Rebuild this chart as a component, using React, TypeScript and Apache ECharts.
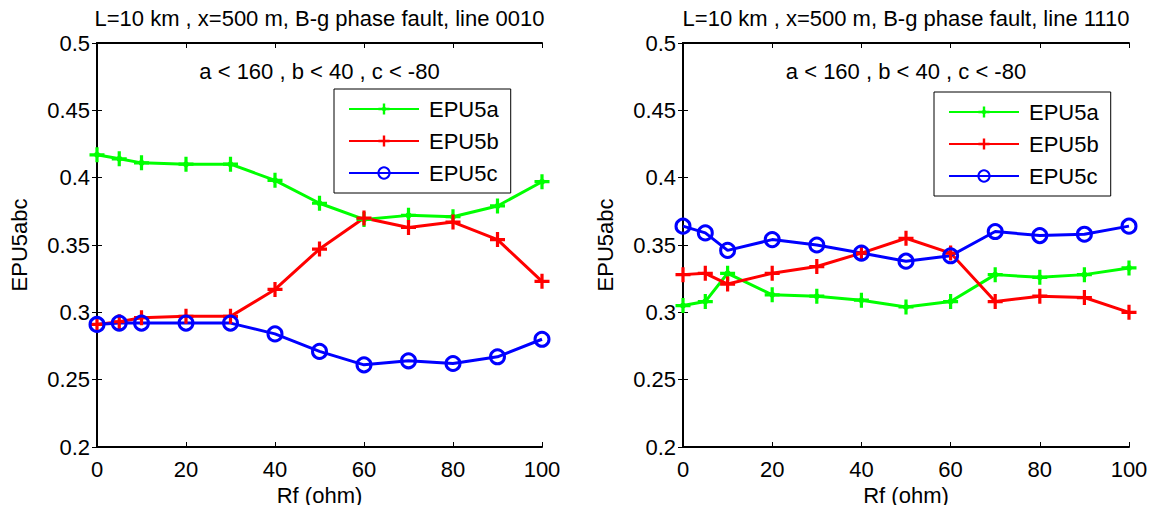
import React, { useEffect, useRef } from "react";
import * as echarts from "echarts";

const rfValues = [0, 5, 10, 20, 30, 40, 50, 60, 70, 80, 90, 100];
const seriesNames = ["EPU5a", "EPU5b", "EPU5c"];

const leftA = [0.417, 0.414, 0.411, 0.41, 0.41, 0.398, 0.381, 0.369, 0.372, 0.371, 0.379, 0.397];
const leftB = [0.291, 0.293, 0.296, 0.297, 0.297, 0.317, 0.347, 0.37, 0.363, 0.367, 0.354, 0.323];
const leftC = [0.291, 0.292, 0.292, 0.292, 0.292, 0.284, 0.271, 0.261, 0.264, 0.262, 0.267, 0.28];

const rightA = [0.305, 0.308, 0.329, 0.313, 0.312, 0.309, 0.304, 0.308, 0.328, 0.326, 0.328, 0.333];
const rightB = [0.328, 0.329, 0.321, 0.329, 0.334, 0.344, 0.355, 0.344, 0.308, 0.312, 0.311, 0.3];
const rightC = [0.364, 0.359, 0.346, 0.354, 0.35, 0.344, 0.338, 0.342, 0.36, 0.357, 0.358, 0.364];

const titles = [
  "L=10 km , x=500 m, B-g phase fault, line 0010",
  "L=10 km , x=500 m, B-g phase fault, line 1110",
];
const subtitle = "a < 160 , b < 40 , c < -80";
const xAxisName = "Rf (ohm)";
const yAxisName = "EPU5abc";

const FONT = "'Liberation Sans', Arial, Helvetica, sans-serif";
const FS = 22;
const GREEN = "#00ff00";
const RED = "#ff0000";
const BLUE = "#0000ff";

const PLUS =
  "path://M-1.5,-7L1.5,-7L1.5,-1.5L7,-1.5L7,1.5L1.5,1.5L1.5,7L-1.5,7L-1.5,1.5L-7,1.5L-7,-1.5L-1.5,-1.5Z";
const STAR =
  "path://M-1.5,-7L1.5,-7L1.5,-1.5L7,-1.5L7,1.5L1.5,1.5L1.5,7L-1.5,7L-1.5,1.5L-7,1.5L-7,-1.5L-1.5,-1.5Z M0,-4L4,0L0,4L-4,0Z";

const grids = [
  { left: 97, top: 43, width: 445, height: 404 },
  { left: 683, top: 43, width: 446, height: 404 },
];
const legendPos = [
  { left: 334, top: 89 },
  { left: 934, top: 92 },
];

export default function App() {
  const ref = useRef<HTMLDivElement>(null);

  useEffect(() => {
    if (!ref.current) return;
    const chart = echarts.init(ref.current, undefined, { renderer: "svg" });

    const axisLine = { show: true, lineStyle: { color: "#000", width: 2 } };
    const axisTick = { show: true, inside: true, length: 5, lineStyle: { color: "#000", width: 1 } };
    const labelStyle = { color: "#000", fontSize: FS, fontFamily: FONT };

    const xAxes: any[] = [];
    const yAxes: any[] = [];
    [0, 1].forEach((g) => {
      xAxes.push({
        type: "value",
        gridIndex: g,
        position: "bottom",
        min: 0,
        max: 100,
        interval: 20,
        axisLine,
        axisTick,
        splitLine: { show: false },
        axisLabel: { ...labelStyle, margin: 11 },
        name: xAxisName,
        nameLocation: "middle",
        nameGap: 37,
        nameTextStyle: labelStyle,
      });
      xAxes.push({
        type: "value",
        gridIndex: g,
        position: "top",
        min: 0,
        max: 100,
        interval: 20,
        axisLine,
        axisTick,
        splitLine: { show: false },
        axisLabel: { show: false },
      });
      yAxes.push({
        type: "value",
        gridIndex: g,
        position: "left",
        min: 0.2,
        max: 0.5,
        interval: 0.05,
        axisLine,
        axisTick,
        splitLine: { show: false },
        axisLabel: {
          ...labelStyle,
          margin: 7,
          formatter: (v: number) => String(Math.round(v * 100) / 100),
        },
        name: yAxisName,
        nameLocation: "middle",
        nameRotate: 90,
        nameGap: 67,
        nameTextStyle: labelStyle,
      });
      yAxes.push({
        type: "value",
        gridIndex: g,
        position: "right",
        min: 0.2,
        max: 0.5,
        interval: 0.05,
        axisLine,
        axisTick,
        splitLine: { show: false },
        axisLabel: { show: false },
      });
    });

    const mk = (name: string, vals: number[], g: number) => {
      const base: any = {
        name,
        type: "line",
        xAxisIndex: g * 2,
        yAxisIndex: g * 2,
        data: rfValues.map((x, i) => [x, vals[i]]),
        showSymbol: true,
        lineStyle: { width: 3 },
        emphasis: { disabled: true },
        silent: true,
      };
      if (name === "EPU5a") {
        base.symbol = STAR;
        base.symbolSize = 15;
        base.lineStyle.color = GREEN;
        base.itemStyle = { color: GREEN };
      } else if (name === "EPU5b") {
        base.symbol = PLUS;
        base.symbolSize = 15;
        base.lineStyle.color = RED;
        base.itemStyle = { color: RED };
      } else {
        base.symbol = "circle";
        base.symbolSize = 14;
        base.lineStyle.color = BLUE;
        base.itemStyle = { color: "rgba(0,0,0,0)", borderColor: BLUE, borderWidth: 3 };
      }
      return base;
    };

    const series = [
      mk("EPU5a", leftA, 0),
      mk("EPU5b", leftB, 0),
      mk("EPU5c", leftC, 0),
      mk("EPU5a", rightA, 1),
      mk("EPU5b", rightB, 1),
      mk("EPU5c", rightC, 1),
    ];

    const titleArr: any[] = [];
    grids.forEach((g, i) => {
      const cx = g.left + g.width / 2;
      titleArr.push({
        text: titles[i],
        left: cx,
        top: 7,
        textAlign: "center",
        padding: 0,
        textStyle: { color: "#000", fontSize: FS, fontWeight: "normal", fontFamily: FONT },
      });
      titleArr.push({
        text: subtitle,
        left: cx,
        top: 60,
        textAlign: "center",
        padding: 0,
        textStyle: { color: "#000", fontSize: FS, fontWeight: "normal", fontFamily: FONT },
      });
    });

    const legends = legendPos.map((p) => ({
      left: p.left,
      top: p.top,
      orient: "vertical",
      data: seriesNames,
      itemWidth: 70,
      itemHeight: 14,
      itemGap: 10,
      padding: [9, 12, 9, 14],
      borderColor: "#000",
      borderWidth: 1,
      backgroundColor: "#fff",
      selectedMode: false,
      textStyle: { color: "#000", fontSize: FS, fontFamily: FONT, padding: [0, 0, 0, 5] },
    }));

    chart.setOption({
      animation: false,
      backgroundColor: "#fff",
      title: titleArr,
      legend: legends,
      grid: grids,
      xAxis: xAxes,
      yAxis: yAxes,
      series,
    });

    return () => chart.dispose();
  }, []);

  return <div ref={ref} style={{ width: 1155, height: 513, margin: -8 }} />;
}
